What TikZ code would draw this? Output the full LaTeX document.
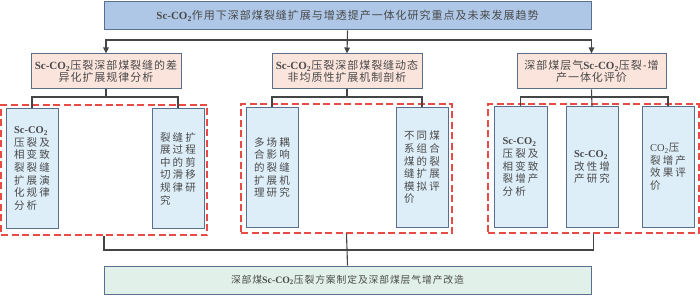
\documentclass[tikz,border=0pt]{standalone}
\usepackage{fontspec}
\setmainfont{Liberation Serif}
\newfontfamily\cjkA[LetterSpace=9]{Noto Sans CJK SC}
\newfontfamily\cjkB[LetterSpace=20]{Noto Sans CJK SC}
\usetikzlibrary{arrows.meta}
\definecolor{topfill}{HTML}{AEC7E6}
\definecolor{pinkfill}{HTML}{FBE4DC}
\definecolor{innerfill}{HTML}{DDEEF9}
\definecolor{botfill}{HTML}{E1F1EA}
\definecolor{bordc}{HTML}{5A6E8E}
\definecolor{redd}{HTML}{E84A44}
\definecolor{linec}{HTML}{454545}
\definecolor{txt}{HTML}{4A4A4A}
\newcommand\scco{{\rmfamily\bfseries Sc-CO\textsubscript{2}}}
\newcommand\coo{{\rmfamily CO\textsubscript{2}}}
\tikzset{
  basebox/.style={draw=bordc, line width=1pt, inner sep=0pt, text=txt, anchor=center},
  topbox/.style={basebox, fill=topfill, minimum width=487pt, minimum height=28pt, font=\cjkA\fontsize{11}{13}\selectfont},
  secbox/.style={basebox, fill=pinkfill, minimum height=35pt, align=center, font=\cjkA\fontsize{11}{12.5}\selectfont},
  innbox/.style={basebox, fill=innerfill, minimum width=52pt, minimum height=119pt, align=left, font=\cjkB\fontsize{10.5}{12.6}\selectfont},
  botbox/.style={basebox, fill=botfill, minimum width=487pt, minimum height=28pt, font=\cjkA\fontsize{9.8}{12}\selectfont},
  redbox/.style={draw=redd, line width=1.1pt, dash pattern=on 7pt off 3.5pt, minimum height=129pt, minimum width=211pt, inner sep=0pt},
  conn/.style={draw=linec, line width=1.1pt},
  arr/.style={conn, -{Triangle[length=6pt,width=5.5pt]}},
}
\begin{document}
\begin{tikzpicture}[x=1pt,y=-1pt]
\useasboundingbox (0,0) rectangle (700,296);
% red dashed groups
\node[redbox, minimum width=206pt, minimum height=130pt] (r1) at (104,170) {};
\node[redbox] (r2) at (346.5,168.5) {};
\node[redbox] (r3) at (593.5,168.5) {};
% top
\node[topbox] (top) at (347.5,16) {\scco 作用下深部煤裂缝扩展与增透提产一体化研究重点及未来发展趋势};
% second level
\node[secbox, minimum width=150pt] (b1) at (106,71.5) {\scco 压裂深部煤裂缝的差\\异化扩展规律分析};
\node[secbox, minimum width=150pt] (b2) at (347,71.5) {\scco 压裂深部煤裂缝动态\\非均质性扩展机制剖析};
\node[secbox, minimum width=149pt] (b3) at (591.5,71.5) {深部煤层气\scco 压裂-增\\产一体化评价};
% inner boxes
\node[innbox] (ia) at (32,168.5) {\scco\\压裂及\\相变致\\裂裂缝\\扩展演\\化规律\\分析};
\node[innbox] (ib) at (178,168.5) {裂缝扩\\展过程\\中的剪\\切滑移\\规律研\\究};
\node[innbox] (ic) at (272,167.5) {多场耦\\合影响\\的裂缝\\扩展机\\理研究};
\node[innbox] (id) at (422,167.5) {不同煤\\系组合\\煤的裂\\缝扩展\\模拟评\\价};
\node[innbox, minimum width=53pt, minimum height=120pt] (ie) at (520.5,167) {\scco\\压裂及\\相变致\\裂增产\\分析};
\node[innbox, minimum height=120pt] (if) at (592,167) {\scco\\改性增\\产研究};
\node[innbox, minimum height=120pt] (ig) at (668,167) {\coo 压\\裂增产\\效果评\\价};
% bottom
\node[botbox] (bot) at (347.5,280) {深部煤\scco 压裂方案制定及深部煤层气增产改造};
% connectors top
\coordinate (j1) at (347,40);
\draw[arr] (top.south) -- (b2.north);
\draw[arr] (j1) -| (b1.north);
\draw[arr] (j1) -| (b3.north);
% group branches
\coordinate (g1) at (106,97);
\coordinate (g2) at (347,97);
\coordinate (g3) at (591.5,97);
\draw[conn] (b1.south) -- (g1);
\draw[conn] (g1) -| (ia.north);
\draw[conn] (g1) -| (ib.north);
\draw[conn] (b2.south) -- (g2);
\draw[conn] (g2) -| (ic.north);
\draw[conn] (g2) -| (id.north);
\draw[conn] (b3.south) -- (if.north);
\draw[conn] (g3) -| (ie.north);
\draw[conn] (g3) -| (ig.north);
% bottom connectors
\coordinate (j2) at (347,250);
\draw[conn] (r1.south) |- (j2);
\draw[conn] (r3.south) |- (j2);
\draw[conn] (r2.south) -- (bot.north);
\end{tikzpicture}
\end{document}
